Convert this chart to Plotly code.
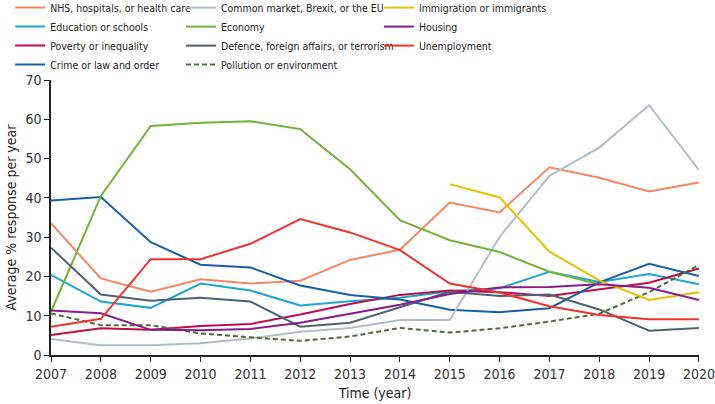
import plotly.graph_objects as go

years = list(range(2007, 2021))

nhs = [33.5, 19.5, 16.1, 19.3, 18.2, 18.9, 24.2, 26.8, 38.8, 36.3, 47.8, 45.1, 41.6, 43.9]
common_market = [4.1, 2.5, 2.5, 3.0, 4.2, 5.9, 6.9, 8.9, 8.9, 30.1, 45.6, 52.8, 63.6, 47.1]
immigration = [None, None, None, None, None, None, None, None, 43.5, 40.1, 26.3, 19.0, 14.0, 16.0]
education = [20.4, 13.6, 12.0, 18.2, 16.4, 12.6, 13.7, 14.6, 16.2, 17.0, 21.2, 18.6, 20.6, 18.0]
economy = [11.0, 40.5, 58.3, 59.1, 59.5, 57.5, 47.3, 34.3, 29.2, 26.2, 21.2, 18.0, None, None]
housing = [11.3, 10.6, 6.4, 6.3, 6.6, 8.2, 10.5, 12.8, 15.5, 17.2, 17.3, 18.0, 17.1, 14.0]
poverty = [5.1, 6.8, 6.4, 7.4, 7.9, 10.3, 13.0, 15.3, 16.4, 16.0, 15.0, 16.7, 18.4, 22.0]
defence = [27.3, 15.4, 13.8, 14.6, 13.6, 7.2, 8.2, 12.2, 16.1, 15.0, 15.4, 11.6, 6.2, 6.9]
unemployment = [7.2, 9.2, 24.4, 24.4, 28.3, 34.6, 31.2, 26.7, 18.2, 15.9, 12.4, 10.2, 9.1, 9.1]
crime = [39.3, 40.2, 28.7, 23.0, 22.3, 17.7, 15.3, 14.1, 11.5, 10.9, 11.9, 18.5, 23.2, 20.1]
pollution = [10.6, 7.6, 7.6, 5.5, 4.5, 3.6, 4.7, 6.9, 5.7, 6.8, 8.5, 10.5, 16.0, 22.9]

tick_labels = [str(y) for y in years]
y_ticks = [0, 10, 20, 30, 40, 50, 60, 70]

series = [
    ("NHS, hospitals, or health care", nhs, "#F98662", "solid", "legend"),
    ("Education or schools", education, "#1DA6CE", "solid", "legend"),
    ("Poverty or inequality", poverty, "#BE0E4A", "solid", "legend"),
    ("Crime or law and order", crime, "#1660AA", "solid", "legend"),
    ("Common market, Brexit, or the EU", common_market, "#B2BEC6", "solid", "legend2"),
    ("Economy", economy, "#70B43C", "solid", "legend2"),
    ("Defence, foreign affairs, or terrorism", defence, "#4C6470", "solid", "legend2"),
    ("Pollution or environment", pollution, "#4D6E36", "5px,3px", "legend2"),
    ("Immigration or immigrants", immigration, "#E6C200", "solid", "legend3"),
    ("Housing", housing, "#8A1C8A", "solid", "legend3"),
    ("Unemployment", unemployment, "#F2322B", "solid", "legend3"),
]

fig = go.Figure()
for name, vals, color, dash, lg in series:
    fig.add_trace(go.Scatter(
        x=years, y=vals, name=name, mode="lines",
        line=dict(color=color, width=2, dash=dash),
        legend=lg, connectgaps=False,
    ))

FONT = "DejaVu Sans Condensed"
legend_common = dict(
    orientation="v", yanchor="top", y=1.316, xanchor="left",
    font=dict(family=FONT, size=10.5, color="#222"),
    bgcolor="rgba(0,0,0,0)", tracegroupgap=0, itemwidth=30,
)

fig.update_layout(
    width=715, height=404,
    margin=dict(l=51, r=16, t=80, b=49, autoexpand=False),
    paper_bgcolor="white", plot_bgcolor="white",
    font=dict(family=FONT, size=14, color="#333"),
    legend=dict(x=-0.063, **legend_common),
    legend2=dict(x=0.2006, **legend_common),
    legend3=dict(x=0.506, **legend_common),
    xaxis=dict(
        range=[2006.999, 2020.001], tickmode="array", tickvals=years,
        ticktext=tick_labels,
        showline=True, linecolor="#222", linewidth=1.5,
        ticks="outside", ticklen=5, tickcolor="#222", showgrid=False, zeroline=False,
        title=dict(text="Time (year)", font=dict(size=14, color="#222"), standoff=8),
        tickfont=dict(size=14, color="#333"),
    ),
    yaxis=dict(
        range=[0, 70], tickmode="array", tickvals=y_ticks,
        showline=True, linecolor="#222", linewidth=1.5,
        ticks="outside", ticklen=5, tickcolor="#222", showgrid=False, zeroline=False,
        title=dict(text="Average % response per year", font=dict(size=14, color="#222"), standoff=6),
        tickfont=dict(size=14, color="#333"),
    ),
)

fig.write_html(
    "out.html",
    config={"displayModeBar": False},
    post_script="document.body.style.margin='0';document.body.style.padding='0';",
)
